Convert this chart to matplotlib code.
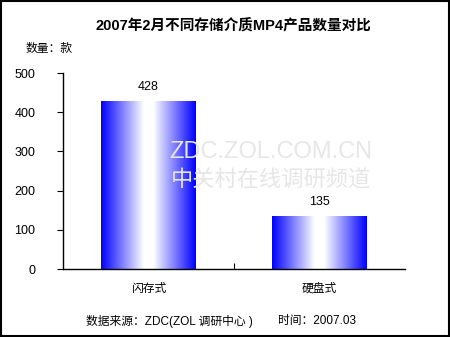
import matplotlib
matplotlib.use("Agg")
import matplotlib.pyplot as plt
import numpy as np
from matplotlib.colors import LinearSegmentedColormap
from matplotlib.patches import Rectangle

plt.rcParams['font.family'] = ['Liberation Sans', 'Noto Sans CJK SC', 'DejaVu Sans']

# data
categories = ["闪存式", "硬盘式"]
counts = [428, 135]
yticks = [0, 100, 200, 300, 400, 500]

W, H = 450, 337
fig = plt.figure(figsize=(W / 100, H / 100), dpi=100)
ax = fig.add_axes([63 / W, 1 - 269 / H, (405 - 63) / W, (269 - 73) / H])

x = np.arange(len(categories))
bar_w = 0.555
grad = LinearSegmentedColormap.from_list(
    "bw", [(0, "#0000ff"), (0.45, "#ffffff"), (0.55, "#ffffff"), (1, "#0000ff")])
g = np.linspace(0, 1, 256).reshape(1, -1)

bars = ax.bar(x, counts, bar_w, color="none", edgecolor="none")
for b, v in zip(bars, counts):
    x0 = b.get_x()
    ax.imshow(g, cmap=grad, aspect="auto", extent=[x0, x0 + bar_w, 0, v],
              zorder=2, interpolation="bilinear")
    ax.text(b.get_x() + bar_w / 2, v + 20, str(v), ha="center", va="bottom",
            fontsize=9)

ax.set_xlim(-0.5, 1.5)
ax.set_ylim(0, 500)
ax.set_yticks(yticks)
ax.set_xticks([0.5])
ax.set_xticklabels([""])
ax.tick_params(axis="y", length=4, direction="out", labelsize=9, pad=16)
ax.tick_params(axis="x", length=4, direction="in")
for s in ["top", "right"]:
    ax.spines[s].set_visible(False)
for s in ["left", "bottom"]:
    ax.spines[s].set_linewidth(1.0)

for xi, c in zip(x, categories):
    fig.text((63 + (xi + 0.5) * 171) / W, 1 - 289 / H, c, ha="center",
             va="center", fontsize=8.5)

# watermark
fig.text(271 / W, 1 - 152 / H, "ZDC.ZOL.COM.CN", ha="center", va="center",
         fontsize=17, color="#e6e6e6", zorder=5)
fig.text(271 / W, 1 - 180 / H, "中关村在线调研频道", ha="center", va="center",
         fontsize=16, color="#e6e6e6", zorder=5)

fig.text(233 / W, 1 - 26 / H, "2007年2月不同存储介质MP4产品数量对比",
         ha="center", va="center", fontsize=10.5, fontweight="bold")
fig.text(26 / W, 1 - 49 / H, "数量：款", ha="left", va="center", fontsize=8.5)
fig.text(86 / W, 1 - 321 / H, "数据来源：ZDC(ZOL 调研中心 )",
         ha="left", va="center", fontsize=8.5)
fig.text(278 / W, 1 - 321 / H, "时间：2007.03",
         ha="left", va="center", fontsize=8.5)

fig.patches.append(Rectangle((0.002, 0.002), 0.995, 0.995,
                             transform=fig.transFigure, fill=False,
                             edgecolor="black", linewidth=1.5))

fig.savefig("out.png", dpi=100)
